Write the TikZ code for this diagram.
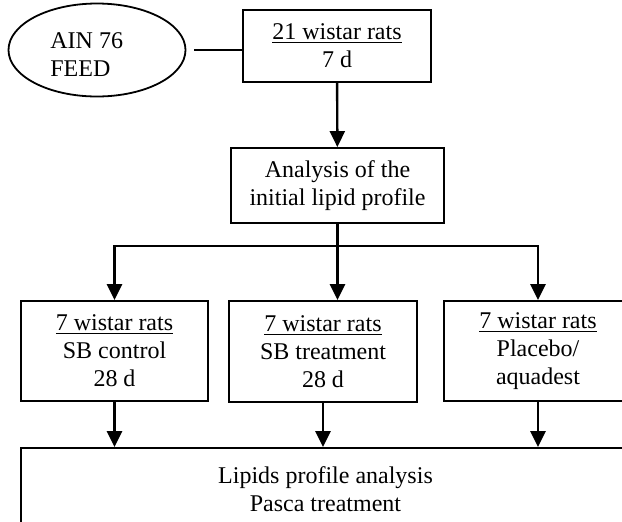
\documentclass[tikz,border=0pt]{standalone}
\usepackage{fontspec}
\setmainfont{Liberation Serif}
\usetikzlibrary{shapes.geometric,arrows.meta}

\begin{document}
\begin{tikzpicture}[x=0.5pt,y=-0.5pt,
		box/.style={draw,rectangle,line width=0.9pt,inner sep=0pt,align=center,font=\fontsize{12pt}{14pt}\selectfont},
		arr/.style={-{Triangle[width=7.5pt,length=8pt]},line width=1.2pt}]
			\useasboundingbox (0,0) rectangle (622,521);
			\clip (0,0) rectangle (622,521);
			\node[draw,ellipse,line width=0.9pt,minimum width=88.5pt,minimum height=46.5pt] (feed) at (97,50){};
			\node[inner sep=0pt,anchor=north west,align=left,font=\fontsize{12pt}{14pt}\selectfont] (feedtxt) at (50,32){AIN 76\\FEED};
			\node[box,minimum width=94pt,minimum height=36pt] (rats) at (337,46){\underline{21 wistar rats}\\7 d};
			\node[box,minimum width=106.5pt,minimum height=37.5pt] (analysis) at (337.5,185.5){Analysis of the\\initial lipid profile};
			\node[box,minimum width=93.5pt,minimum height=50pt] (control) at (114.5,351){\underline{7 wistar rats}\\SB control\\28 d};
			\node[box,minimum width=94pt,minimum height=50.5pt] (treat) at (323,351.5){\underline{7 wistar rats}\\SB treatment\\28 d};
			\node[box,minimum width=94pt,minimum height=50pt] (placebo) at (538,351){\underline{7 wistar rats}\\Placebo/\\aquadest};
			\node[box,minimum width=304.5pt,minimum height=41pt] (lipids) at (325.5,489){Lipids profile analysis\\Pasca treatment};
			\coordinate (split) at (337.5,246);
			\draw[line width=1.2pt,shorten <=4pt] (feed.east) -- (feed.east -| rats.west);
			\draw[arr] (rats) -- (analysis);
			\draw[line width=1.2pt] (analysis) -- (split);
			\draw[arr] (split) -| (control.north);
			\draw[arr] (split) -- (split |- treat.north);
			\draw[arr] (split) -| (placebo.north);
			\draw[arr] (control.south) -- (control.south |- lipids.north);
			\draw[arr] (treat.south) -- (treat.south |- lipids.north);
			\draw[arr] (placebo.south) -- (placebo.south |- lipids.north);
		\end{tikzpicture}
\end{document}
